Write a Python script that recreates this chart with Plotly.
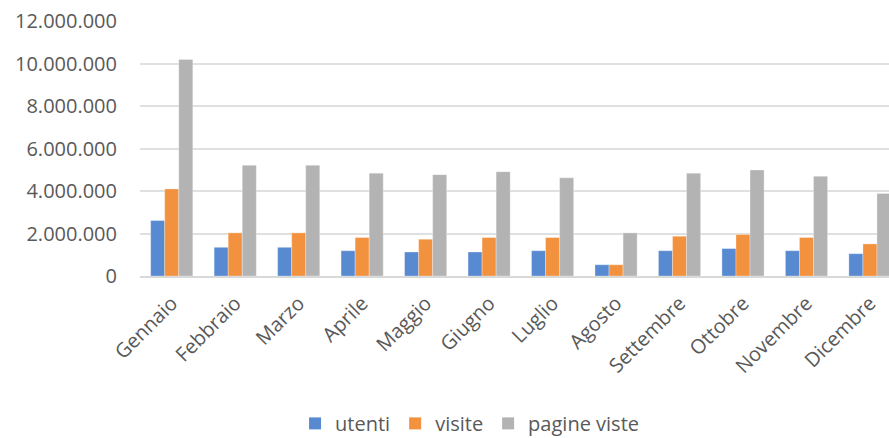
import plotly.graph_objects as go

# Monthly traffic figures
mesi = ["Gennaio", "Febbraio", "Marzo", "Aprile", "Maggio", "Giugno",
        "Luglio", "Agosto", "Settembre", "Ottobre", "Novembre", "Dicembre"]
utenti = [2610000, 1350000, 1350000, 1190000, 1130000, 1130000,
          1190000, 530000, 1190000, 1290000, 1190000, 1050000]
visite = [4100000, 2030000, 2030000, 1810000, 1730000, 1810000,
          1810000, 530000, 1870000, 1950000, 1810000, 1510000]
pagine_viste = [10190000, 5210000, 5210000, 4840000, 4770000, 4910000,
                4620000, 2030000, 4840000, 4990000, 4690000, 3880000]

y_ticks = [0, 2000000, 4000000, 6000000, 8000000, 10000000, 12000000]

series = [
    ("utenti", utenti, "#588AD2"),
    ("visite", visite, "#F2923F"),
    ("pagine viste", pagine_viste, "#B3B3B3"),
]

font_family = "Open Sans"
text_color = "#595959"

fig = go.Figure()
for name, values, color in series:
    fig.add_trace(go.Bar(
        x=mesi, y=values, name=name, showlegend=False,
        marker=dict(color=color, line=dict(color="rgba(255,255,255,0.5)", width=0.6)),
    ))
# square legend keys
for name, values, color in series:
    fig.add_trace(go.Scatter(
        x=[None], y=[None], name=name, mode="markers",
        marker=dict(symbol="square", size=12, color=color),
    ))

fig.update_layout(
    width=889, height=438,
    margin=dict(l=140, r=0, t=21, b=162, pad=0, autoexpand=False),
    paper_bgcolor="white", plot_bgcolor="white",
    barmode="group", bargap=0.336, bargroupgap=0,
    separators=",.",
    font=dict(family=font_family, size=20, color=text_color),
    showlegend=True,
    legend=dict(
        orientation="h", x=0.44, xanchor="center", y=-0.578, yanchor="middle",
        font=dict(family=font_family, size=20, color=text_color),
        itemwidth=30, tracegroupgap=0,
    ),
)

fig.update_xaxes(
    type="category", range=[-0.5, 11.3], automargin=False,
    tickangle=-45, showgrid=False,
    showline=True, linecolor="#D9D9D9", linewidth=1.5,
    ticks="", ticklabelstandoff=6,
    tickfont=dict(size=20, color=text_color),
)
fig.update_yaxes(
    range=[0, 12000000], tickvals=y_ticks, tickformat=",d", automargin=False,
    showgrid=True, gridcolor="#E0E0E0", gridwidth=1.5,
    zeroline=False, showline=False, ticks="",
    ticklabelstandoff=22,
    tickfont=dict(size=20, color=text_color),
)

fig.write_html("out.html")
